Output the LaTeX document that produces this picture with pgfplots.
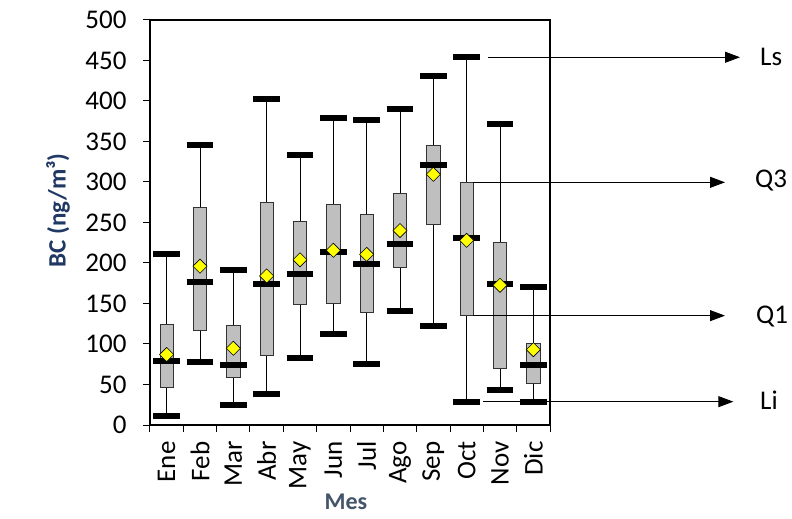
\documentclass[border=0pt]{standalone}
\usepackage{fontspec}
\setmainfont{Carlito}
\usepackage{pgfplots}
\pgfplotsset{compat=1.18}
\usepgfplotslibrary{statistics}
\usetikzlibrary{arrows.meta}
\definecolor{boxgray}{HTML}{BFBFBF}
\definecolor{ylab}{HTML}{1F3864}
\definecolor{xlab}{HTML}{44546A}
\definecolor{meanyel}{HTML}{FFFF00}

\pgfplotsset{
  mybox/.style={
    /pgfplots/boxplot/draw/lower whisker/.code={%
      \draw[black, line width=0.9pt]
        (boxplot box cs:\pgfplotsboxplotvalue{lower whisker},0.5) -- (boxplot box cs:\pgfplotsboxplotvalue{lower quartile},0.5);
      \draw[black, line width=6pt]
        (boxplot whisker cs:\pgfplotsboxplotvalue{lower whisker},0) -- (boxplot whisker cs:\pgfplotsboxplotvalue{lower whisker},1);
    },
    /pgfplots/boxplot/draw/upper whisker/.code={%
      \draw[black, line width=0.9pt]
        (boxplot box cs:\pgfplotsboxplotvalue{upper whisker},0.5) -- (boxplot box cs:\pgfplotsboxplotvalue{upper quartile},0.5);
      \draw[black, line width=6pt]
        (boxplot whisker cs:\pgfplotsboxplotvalue{upper whisker},0) -- (boxplot whisker cs:\pgfplotsboxplotvalue{upper whisker},1);
    },
    /pgfplots/boxplot/draw/box/.code={%
      \draw[fill=boxgray, draw=black!80, line width=0.9pt]
        (boxplot box cs:\pgfplotsboxplotvalue{lower quartile},0) rectangle (boxplot box cs:\pgfplotsboxplotvalue{upper quartile},1);
      \draw[black, line width=6pt]
        (boxplot whisker cs:\pgfplotsboxplotvalue{median},0) -- (boxplot whisker cs:\pgfplotsboxplotvalue{median},1);
    },
    /pgfplots/boxplot/draw/median/.code={},
  },
}

\begin{document}
\begin{tikzpicture}
\begin{axis}[name=ax, scale only axis, width=400pt, height=405pt,
  xmin=-0.5, xmax=11.5, ymin=0, ymax=500,
  clip=false,
  boxplot/draw direction=y,
  boxplot/box extend=0.4,
  boxplot/whisker extend=0.8,
  axis line style={line width=1.5pt},
  xtick={-0.5,0.5,...,11.5},
  x tick label as interval,
  xticklabels={Ene,Feb,Mar,Abr,May,Jun,Jul,Ago,Sep,Oct,Nov,Dic},
  ytick={0,50,...,500},
  tick align=outside, tick pos=left,
  major tick length=7pt,
  tick style={black, line width=1pt},
  /pgf/number format/assume math mode=true,
  yticklabel style={font=\fontsize{27}{30}\selectfont, xshift=-13pt},
  xticklabel style={font=\fontsize{27}{30}\selectfont, yshift=-6pt, rotate=90, anchor=east},
  ylabel={BC (ng/m³)},
  ylabel style={font=\fontsize{25}{28}\selectfont\bfseries, color=ylab, at={(axis description cs:-0.23,0.53)}, anchor=center},
  xlabel={Mes},
  xlabel style={font=\fontsize{24}{26}\selectfont\bfseries, color=xlab, inner sep=0pt, at={(axis description cs:0.49,-0.19)}, anchor=center},
]
% Ene .. Dic
\addplot[boxplot prepared={draw position=0, lower whisker=11.5, lower quartile=46.5, median=79, upper quartile=124.7, upper whisker=210.7}, mybox] coordinates {};
\addplot[boxplot prepared={draw position=1, lower whisker=78, lower quartile=117, median=176, upper quartile=269, upper whisker=345.7}, mybox] coordinates {};
\addplot[boxplot prepared={draw position=2, lower whisker=25, lower quartile=58.4, median=74.5, upper quartile=123, upper whisker=191}, mybox] coordinates {};
\addplot[boxplot prepared={draw position=3, lower whisker=38.7, lower quartile=86, median=174.5, upper quartile=275, upper whisker=402}, mybox] coordinates {};
\addplot[boxplot prepared={draw position=4, lower whisker=83, lower quartile=149, median=186, upper quartile=251, upper whisker=333}, mybox] coordinates {};
\addplot[boxplot prepared={draw position=5, lower whisker=112, lower quartile=149.8, median=213.6, upper quartile=272.4, upper whisker=379}, mybox] coordinates {};
\addplot[boxplot prepared={draw position=6, lower whisker=75.7, lower quartile=139.5, median=198.8, upper quartile=260.5, upper whisker=376}, mybox] coordinates {};
\addplot[boxplot prepared={draw position=7, lower whisker=141, lower quartile=194.7, median=223, upper quartile=285.6, upper whisker=390.5}, mybox] coordinates {};
\addplot[boxplot prepared={draw position=8, lower whisker=122.6, lower quartile=248, median=321.4, upper quartile=345.7, upper whisker=430.5}, mybox] coordinates {};
\addplot[boxplot prepared={draw position=9, lower whisker=28.8, lower quartile=135, median=230.9, upper quartile=299.6, upper whisker=454}, mybox] coordinates {};
\addplot[boxplot prepared={draw position=10, lower whisker=43.2, lower quartile=70.4, median=174.5, upper quartile=225.5, upper whisker=372}, mybox] coordinates {};
\addplot[boxplot prepared={draw position=11, lower whisker=28.8, lower quartile=51.4, median=74.5, upper quartile=100.4, upper whisker=170}, mybox] coordinates {};
% means
\addplot[only marks, mark=square*, mark size=5pt, mark options={rotate=45, fill=meanyel, draw=black, line width=0.6pt}]
  coordinates {(0,87) (1,196) (2,94.7) (3,184) (4,204) (5,215.7) (6,210.7) (7,240) (8,309.5) (9,228) (10,172.5) (11,93)};
% annotations
\draw[line width=0.9pt, -{Triangle[length=15pt,width=11pt]}] (axis cs:9.64,454) -- (axis cs:17.2,454);
\draw[line width=0.9pt, -{Triangle[length=15pt,width=11pt]}] (axis cs:9.19,299.6) -- (axis cs:16.75,299.6);
\draw[line width=0.9pt, -{Triangle[length=15pt,width=11pt]}] (axis cs:9.19,135) -- (axis cs:16.75,135);
\draw[line width=0.9pt, -{Triangle[length=15pt,width=11pt]}] (axis cs:9.49,28.8) -- (axis cs:17.0,28.8);
\node[anchor=west, inner sep=0pt, font=\fontsize{27}{30}\selectfont] at (axis cs:17.8,454) {Ls};
\node[anchor=west, inner sep=0pt, font=\fontsize{27}{30}\selectfont] at (axis cs:17.65,302) {Q3};
\node[anchor=west, inner sep=0pt, font=\fontsize{27}{30}\selectfont] at (axis cs:17.68,134) {Q1};
\node[anchor=west, inner sep=0pt, font=\fontsize{27}{30}\selectfont] at (axis cs:17.8,31) {Li};
\end{axis}
\pgfresetboundingbox
\path[use as bounding box] (ax.south west) ++(-150pt,-94pt) rectangle ++(792pt,519pt);
\end{tikzpicture}
\end{document}
